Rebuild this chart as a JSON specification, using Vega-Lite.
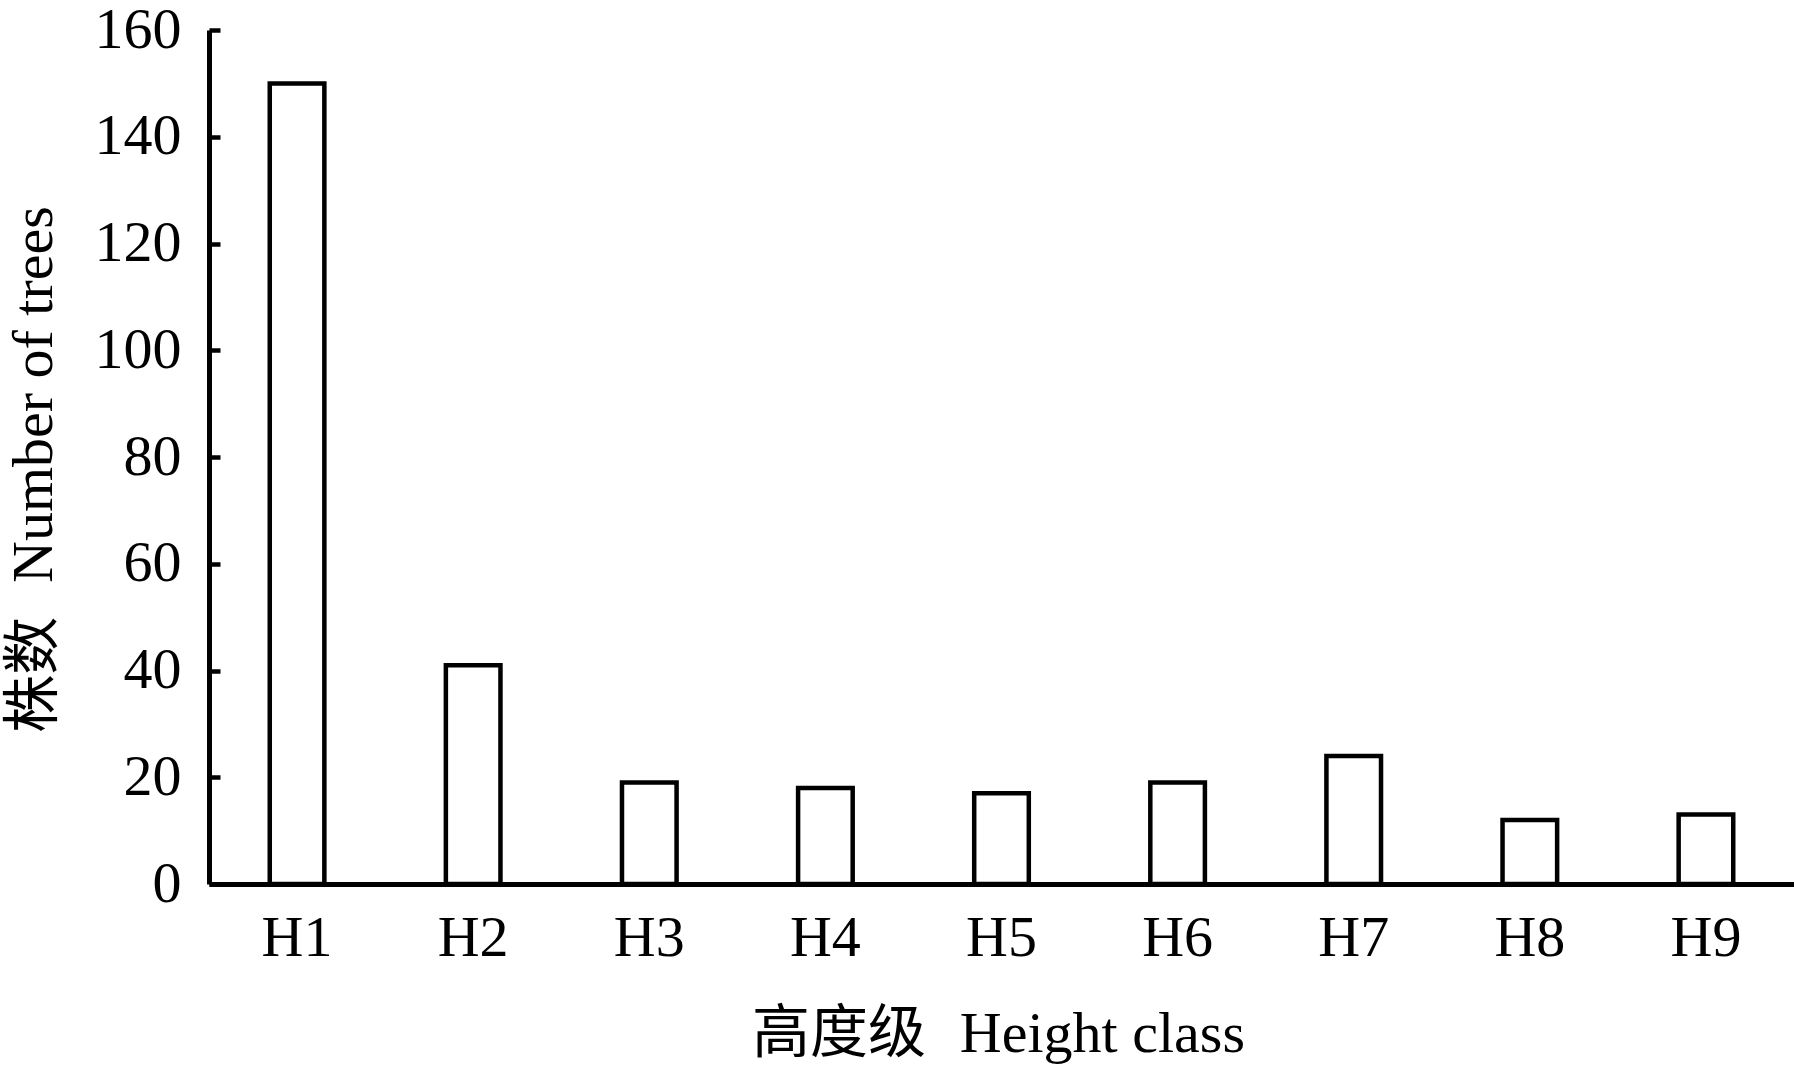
{
  "$schema": "https://vega.github.io/schema/vega-lite/v6.json",
  "width": 1585,
  "height": 854,
  "autosize": {"type": "none"},
  "padding": {"left": 209, "top": 30, "right": 0, "bottom": 186},
  "background": "white",
  "config": {
    "view": {"stroke": null},
    "font": "Liberation Serif, Noto Sans CJK SC",
    "axis": {
      "grid": false,
      "domainColor": "black",
      "domainWidth": 5,
      "tickColor": "black",
      "tickWidth": 4.5,
      "labelColor": "black",
      "titleColor": "black",
      "labelFont": "Liberation Serif",
      "titleFont": "Liberation Serif, Noto Sans CJK SC",
      "labelFontSize": 58,
      "titleFontSize": 58,
      "titleFontWeight": "normal"
    }
  },
  "data": {
    "values": [
      {"class": "H1", "count": 150},
      {"class": "H2", "count": 41},
      {"class": "H3", "count": 19},
      {"class": "H4", "count": 18},
      {"class": "H5", "count": 17},
      {"class": "H6", "count": 19},
      {"class": "H7", "count": 24},
      {"class": "H8", "count": 12},
      {"class": "H9", "count": 13}
    ]
  },
  "mark": {"type": "bar", "fill": "white", "stroke": "black", "strokeWidth": 4.5},
  "encoding": {
    "x": {
      "field": "class",
      "type": "nominal",
      "sort": null,
      "scale": {"paddingInner": 0.69, "paddingOuter": 0.345},
      "axis": {
        "title": "高度级\u00a0\u00a0\u200aHeight class",
        "labelAngle": 0,
        "ticks": false,
        "labelPadding": 25,
        "titleBaseline": "alphabetic",
        "titleY": 167,
        "titleX": 789
      }
    },
    "y": {
      "field": "count",
      "type": "quantitative",
      "scale": {"domain": [0, 160], "nice": false},
      "axis": {
        "title": "株数\u00a0\u00a0\u200aNumber of trees",
        "values": [0, 20, 40, 60, 80, 100, 120, 140, 160],
        "tickSize": -11,
        "labelPadding": 39,
        "titleAngle": -90,
        "titleAlign": "center",
        "titleBaseline": "alphabetic",
        "titleX": -158,
        "titleY": 439
      }
    }
  }
}
